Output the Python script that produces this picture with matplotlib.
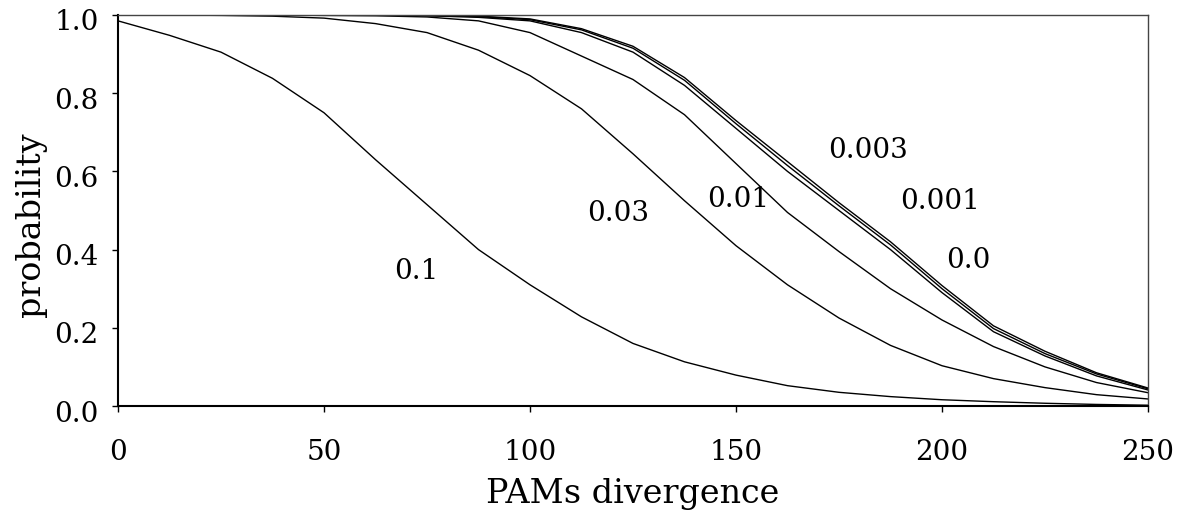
import matplotlib
matplotlib.use("Agg")
import matplotlib.pyplot as plt
from matplotlib.transforms import ScaledTranslation

# PAM divergence sample points
pam = [0, 12.5, 25, 37.5, 50, 62.5, 75, 87.5, 100, 112.5, 125, 137.5,
       150, 162.5, 175, 187.5, 200, 212.5, 225, 237.5, 250]

p_0_1 = [0.985, 0.948, 0.905, 0.838, 0.75, 0.63, 0.515, 0.40, 0.31, 0.228, 0.16, 0.113,
         0.079, 0.052, 0.035, 0.024, 0.016, 0.011, 0.007, 0.004, 0.002]
p_0_03 = [1.0, 1.0, 0.999, 0.997, 0.992, 0.978, 0.955, 0.91, 0.845, 0.76, 0.645, 0.525,
          0.41, 0.31, 0.225, 0.155, 0.103, 0.07, 0.047, 0.029, 0.018]
p_0_01 = [1.0, 1.0, 1.0, 1.0, 0.999, 0.998, 0.995, 0.985, 0.955, 0.895, 0.835, 0.745,
          0.62, 0.495, 0.395, 0.30, 0.22, 0.152, 0.10, 0.06, 0.034]
p_0_003 = [1.0, 1.0, 1.0, 1.0, 1.0, 1.0, 0.998, 0.994, 0.985, 0.955, 0.905, 0.82,
           0.71, 0.60, 0.50, 0.40, 0.29, 0.19, 0.128, 0.077, 0.041]
p_0_001 = [1.0, 1.0, 1.0, 1.0, 1.0, 1.0, 0.999, 0.996, 0.988, 0.962, 0.915, 0.833,
           0.722, 0.615, 0.512, 0.412, 0.30, 0.198, 0.134, 0.082, 0.044]
p_0_0 = [1.0, 1.0, 1.0, 1.0, 1.0, 1.0, 0.999, 0.997, 0.99, 0.965, 0.92, 0.84,
         0.73, 0.625, 0.52, 0.42, 0.308, 0.205, 0.14, 0.085, 0.046]

labels = ["0.1", "0.03", "0.01", "0.003", "0.001", "0.0"]
label_x = [72.5, 121.5, 150.5, 182, 199.5, 206.5]
label_y = [0.345, 0.493, 0.527, 0.653, 0.522, 0.371]

xticks = [0, 50, 100, 150, 200, 250]
yticks = [0.0, 0.2, 0.4, 0.6, 0.8, 1.0]

plt.rcParams['font.family'] = ['DejaVu Serif']

fig = plt.figure(figsize=(11.88, 5.22), dpi=100)
ax = fig.add_axes([118 / 1188, 1 - 406 / 522, (1148 - 118) / 1188, (406 - 15) / 522])

for series in [p_0_1, p_0_03, p_0_01, p_0_003, p_0_001, p_0_0]:
    ax.plot(pam, series, color='black', lw=1.0)

for t, lx, ly in zip(labels, label_x, label_y):
    ax.text(lx, ly, t, ha='center', va='center', fontsize=20)

ax.set_xlim(0, 250)
ax.set_ylim(0, 1)
ax.set_xticks(xticks)
ax.set_xticklabels([str(v) for v in xticks])
ax.set_yticks(yticks)
ax.set_yticklabels([f"{v:.1f}" for v in yticks])
ax.tick_params(axis='x', direction='out', length=4, width=1, labelsize=20, pad=20)
ax.tick_params(axis='y', direction='out', length=4, width=1, labelsize=20, pad=10)

shift = ScaledTranslation(0, -0.05, fig.dpi_scale_trans)
for lab in ax.get_yticklabels():
    lab.set_transform(lab.get_transform() + shift)

for s in ['left', 'bottom']:
    ax.spines[s].set_linewidth(1.5)
    ax.spines[s].set_color('black')
for s in ['top', 'right']:
    ax.spines[s].set_linewidth(1.0)
    ax.spines[s].set_color('#444444')

ax.set_xlabel("PAMs divergence", fontsize=24)
ax.set_ylabel("probability", fontsize=24)
ax.xaxis.set_label_coords(0.5, (406 - 478) / 391)
ax.yaxis.set_label_coords((47 - 118) / 1030, (406 - 225) / 391)

fig.savefig("out.png", dpi=100)
